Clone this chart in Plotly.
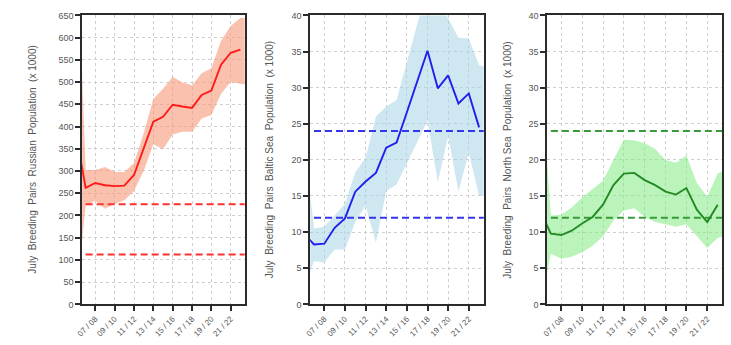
import plotly.graph_objects as go

# ---- data ----
seasons = list(range(5, 23))          # season start year (05/06 .. 22/23)
band_seasons = list(range(5, 24))
tick_vals = [7, 9, 11, 13, 15, 17, 19, 21]
tick_text = ["07 / 08", "09 / 10", "11 / 12", "13 / 14", "15 / 16", "17 / 18", "19 / 20", "21 / 22"]

russia_mid = [384, 262, 273, 268, 266, 267, 291, 353, 411, 422, 449, 445, 442, 471, 481, 539, 566, 573]
russia_hi = [900, 302, 302, 309, 298, 298, 318, 385, 462, 485, 512, 499, 493, 520, 531, 593, 626, 644, 646]
russia_lo = [0, 222, 233, 215, 226, 234, 255, 300, 360, 349, 382, 388, 388, 418, 426, 474, 500, 497, 493]
russia_ref = [225, 112]

baltic_mid = [9.8, 8.3, 8.4, 10.6, 11.9, 15.6, 17.0, 18.2, 21.7, 22.4, 26.6, 30.9, 35.1, 29.9, 31.7, 27.8, 29.2, 24.5]
baltic_hi = [23.5, 10.5, 10.75, 12.3, 13.9, 18.3, 20.3, 26.0, 27.4, 28.3, 33.5, 38.5, 44, 42, 39.6, 36.9, 36.8, 33.1, 32.7]
baltic_lo = [1.9, 6.0, 5.8, 7.6, 7.6, 11.4, 13.7, 8.5, 15.7, 16.6, 19.5, 22.4, 25.4, 16.9, 23.3, 15.6, 21.0, 15.0, 15.0]
baltic_ref = [24, 12]

north_mid = [12.8, 9.8, 9.6, 10.2, 11.2, 12.1, 13.8, 16.5, 18.1, 18.2, 17.2, 16.5, 15.6, 15.2, 16.1, 13.1, 11.4, 13.8]
north_hi = [33, 12.3, 12.4, 13.4, 14.8, 16.0, 17.1, 20.0, 22.8, 22.7, 22.3, 21.5, 20.0, 19.6, 20.6, 16.8, 14.9, 18.1, 18.8]
north_lo = [0, 7.0, 6.3, 6.6, 7.2, 8.1, 9.4, 11.6, 13.0, 13.3, 12.1, 11.4, 11.1, 10.75, 11.1, 9.4, 7.8, 9.2, 9.6]
north_ref = [24, 12]

titles = [
    "July  Breeding  Pairs  Russian  Population  (x 1000)",
    "July  Breeding  Pairs  Baltic Sea  Population  (x 1000)",
    "July  Breeding  Pairs  North Sea  Population  (x 1000)",
]

panels = [
    dict(mid=russia_mid, hi=russia_hi, lo=russia_lo, ref=russia_ref,
         line="#ff1a1a", band="rgba(247,150,115,0.58)", dashc="#ff3030",
         yrange=[0, 650], dtick=50, dom=[76.7, 240.7], tx=27),
    dict(mid=baltic_mid, hi=baltic_hi, lo=baltic_lo, ref=baltic_ref,
         line="#1f1fef", band="rgba(165,212,228,0.55)", dashc="#3535ee",
         yrange=[0, 40], dtick=5, dom=[306.7, 481.7], tx=266.5),
    dict(mid=north_mid, hi=north_hi, lo=north_lo, ref=north_ref,
         line="#238a23", band="rgba(130,235,130,0.55)", dashc="#389a38",
         yrange=[0, 40], dtick=5, dom=[545.5, 722.3], tx=506),
]

W, H = 731, 345
ytop, ybot = 10.7, 308.3
fig = go.Figure()
ann = []
layout = {}
for i, p in enumerate(panels):
    n = "" if i == 0 else str(i + 1)
    xa, ya = "x" + n, "y" + n
    fig.add_trace(go.Scatter(x=band_seasons, y=p["lo"], xaxis=xa, yaxis=ya, mode="lines",
                             line=dict(width=0, color=p["band"]), showlegend=False, hoverinfo="skip"))
    fig.add_trace(go.Scatter(x=band_seasons, y=p["hi"], xaxis=xa, yaxis=ya, mode="lines",
                             line=dict(width=0, color=p["band"]), fill="tonexty",
                             fillcolor=p["band"], showlegend=False, hoverinfo="skip"))
    for r in p["ref"]:
        fig.add_trace(go.Scatter(x=[seasons[1], band_seasons[-1]], y=[r, r], xaxis=xa, yaxis=ya,
                                 mode="lines", line=dict(color=p["dashc"], width=2, dash="7px,4px"),
                                 showlegend=False))
    fig.add_trace(go.Scatter(x=seasons, y=p["mid"], xaxis=xa, yaxis=ya, mode="lines",
                             line=dict(color=p["line"], width=1.9), showlegend=False))
    common = dict(showline=True, linecolor="#2b2b2b", linewidth=1.6, mirror=True,
                  ticks="outside", ticklen=5, tickwidth=1.5, tickcolor="#2b2b2b",
                  showgrid=True, gridcolor="#cfcfcf", griddash="dot", gridwidth=1,
                  zeroline=False)
    layout["xaxis" + n] = dict(domain=[p["dom"][0] / W, p["dom"][1] / W], anchor=ya,
                               range=[5.63, 22.45], tickmode="array", tickvals=tick_vals,
                               ticktext=tick_text, tickangle=-45,
                               tickfont=dict(size=8, color="#555555"), **common)
    layout["yaxis" + n] = dict(domain=[1 - ybot / H, 1 - ytop / H], anchor=xa,
                               range=p["yrange"], dtick=p["dtick"], tick0=0,
                               tickfont=dict(size=9, color="#555555"), **common)
    ann.append(dict(text=titles[i], xref="paper", yref="paper", x=p["tx"] / W,
                    y=1 - (ytop + ybot) / 2 / H, xanchor="center", yanchor="middle",
                    textangle=-90, showarrow=False, font=dict(size=10, color="#555555")))

fig.update_layout(width=W, height=H, margin=dict(l=0, r=0, t=0, b=0),
                  paper_bgcolor="white", plot_bgcolor="white",
                  font=dict(family="Liberation Sans, Arial, sans-serif"),
                  annotations=ann, **layout)
fig.write_html("out.html", config={"displayModeBar": False},
               post_script="document.body.style.margin='0';document.body.style.overflow='hidden';")
